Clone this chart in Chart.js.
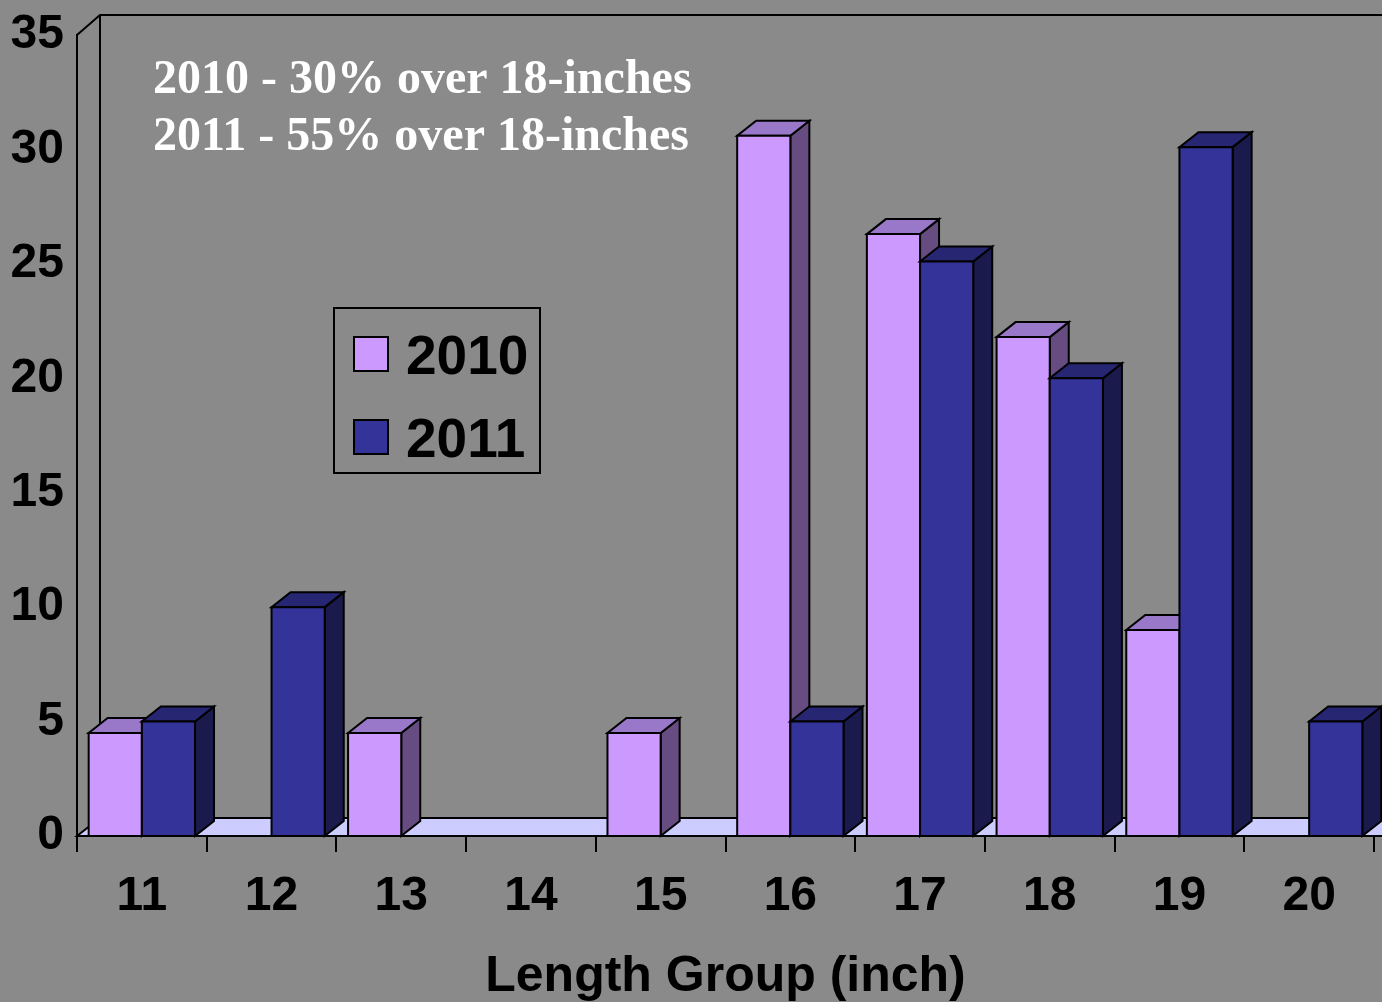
<!DOCTYPE html>
<html>
<head>
<meta charset="utf-8">
<script src="https://cdn.jsdelivr.net/npm/chart.js@4.4.1/dist/chart.umd.min.js"></script>
<style>
  html, body { margin: 0; padding: 0; background: #8a8a8a; }
  #wrap { width: 1382px; height: 1002px; }
</style>
</head>
<body>
<div id="wrap"><canvas id="lengthChart" width="1382" height="1002"></canvas></div>
<script>
// data
const categories = ['11', '12', '13', '14', '15', '16', '17', '18', '19', '20'];
const seriesNames = ['2010', '2011'];
const values2010 = [4.5, 0, 4.5, 0, 4.5, 30.6, 26.3, 21.8, 9, 0];
const values2011 = [5, 10, 0, 0, 0, 5, 25.1, 20, 30.1, 5];
const notes = ['2010 - 30% over 18-inches', '2011 - 55% over 18-inches'];
const axisTitle = 'Length Group (inch)';

// colours: front, top, side
const faces = [
    { front: '#CC99FF', top: '#9977C9', side: '#664C80' },
    { front: '#333399', top: '#262673', side: '#1A1A4D' }
];

const BAR_DX = 19, BAR_DY = 15;   // bar depth
const WALL_DX = 23, WALL_DY = 18; // floor / wall depth

function poly(ctx, pts, fill) {
    ctx.beginPath();
    ctx.moveTo(pts[0][0], pts[0][1]);
    for (let k = 1; k < pts.length; k++) ctx.lineTo(pts[k][0], pts[k][1]);
    ctx.closePath();
    if (fill) { ctx.fillStyle = fill; ctx.fill(); }
    ctx.stroke();
}

// floor, back wall, legend and notes
const backdrop = {
    id: 'backdrop',
    beforeDatasetsDraw(chart) {
        const ctx = chart.ctx;
        const a = chart.chartArea;
        ctx.save();
        ctx.strokeStyle = '#000';
        ctx.lineWidth = 2;
        ctx.lineJoin = 'miter';
        // back wall edges
        ctx.beginPath();
        ctx.moveTo(a.left, a.top);
        ctx.lineTo(a.left + WALL_DX, a.top - 20);
        ctx.lineTo(chart.width + 5, a.top - 20);
        ctx.moveTo(a.left + WALL_DX, a.top - 20);
        ctx.lineTo(a.left + WALL_DX, a.bottom - WALL_DY);
        ctx.stroke();
        // floor
        poly(ctx, [
            [a.left, a.bottom],
            [chart.width + 5, a.bottom],
            [chart.width + 5, a.bottom - WALL_DY],
            [a.left + WALL_DX, a.bottom - WALL_DY]
        ], '#CCCCFF');
        ctx.restore();
    },
    afterDatasetsDraw(chart) {
        const ctx = chart.ctx;
        ctx.save();
        ctx.strokeStyle = '#000';
        ctx.lineWidth = 2;
        ctx.lineJoin = 'miter';
        // draw 3D bars category by category so overlaps come out right
        for (let i = 0; i < categories.length; i++) {
            chart.data.datasets.forEach((ds, d) => {
                if (!ds.data[i]) return;
                const bar = chart.getDatasetMeta(d).data[i];
                const p = bar.getProps(['x', 'y', 'base', 'width'], true);
                const l = p.x - p.width / 2, r = p.x + p.width / 2;
                const f = faces[d];
                poly(ctx, [[r, p.y], [r + BAR_DX, p.y - BAR_DY], [r + BAR_DX, p.base - BAR_DY], [r, p.base]], f.side);
                poly(ctx, [[l, p.y], [r, p.y], [r + BAR_DX, p.y - BAR_DY], [l + BAR_DX, p.y - BAR_DY]], f.top);
                poly(ctx, [[l, p.y], [r, p.y], [r, p.base], [l, p.base]], f.front);
            });
        }

        // legend box
        ctx.strokeRect(334, 308, 206, 165);
        ctx.font = 'bold 55px "Liberation Sans", Arial, sans-serif';
        ctx.textBaseline = 'alphabetic';
        ctx.textAlign = 'left';
        seriesNames.forEach((name, d) => {
            const y = 337 + d * 83;
            ctx.fillStyle = faces[d].front;
            ctx.fillRect(354, y, 34, 34);
            ctx.strokeRect(354, y, 34, 34);
            ctx.fillStyle = '#000';
            ctx.fillText(name, 406, y + 37);
        });

        // notes
        ctx.fillStyle = '#fff';
        ctx.font = 'bold 48px "Liberation Serif", "Times New Roman", serif';
        notes.forEach((t, k) => ctx.fillText(t, 153, 93 + k * 57));
        ctx.restore();
    }
};

const ctx = document.getElementById('lengthChart').getContext('2d');
const lengthChart = new Chart(ctx, {
    type: 'bar',
    data: {
        labels: categories,
        datasets: [{
            label: seriesNames[0],
            data: values2010,
            backgroundColor: faces[0].front,
            borderColor: '#000',
            borderWidth: 2,
            borderSkipped: false
        }, {
            label: seriesNames[1],
            data: values2011,
            backgroundColor: faces[1].front,
            borderColor: '#000',
            borderWidth: 2,
            borderSkipped: false
        }]
    },
    options: {
        responsive: false,
        devicePixelRatio: 1,
        animation: false,
        layout: { padding: { top: 35, right: 8, left: 0, bottom: 0 } },
        datasets: { bar: { categoryPercentage: 0.82, barPercentage: 1 } },
        plugins: {
            legend: { display: false },
            tooltip: { enabled: false }
        },
        scales: {
            y: {
                min: 0,
                max: 35,
                ticks: {
                    stepSize: 5,
                    color: '#000',
                    padding: 5,
                    font: { family: '"Liberation Sans", Arial, sans-serif', size: 48, weight: 'bold' }
                },
                grid: { display: false },
                border: { display: true, color: '#000', width: 2 },
                afterFit: scale => { scale.width = 77 }
            },
            x: {
                offset: true,
                ticks: {
                    color: '#000',
                    padding: 16,
                    font: { family: '"Liberation Sans", Arial, sans-serif', size: 48, weight: 'bold' }
                },
                grid: {
                    display: true,
                    offset: true,
                    drawOnChartArea: false,
                    color: '#000',
                    lineWidth: 2,
                    tickLength: 16
                },
                border: { display: true, color: '#000', width: 2 },
                title: {
                    display: true,
                    text: axisTitle,
                    color: '#000',
                    padding: { top: 0, bottom: 0 },
                    font: { family: '"Liberation Sans", Arial, sans-serif', size: 50, weight: 'bold', lineHeight: 1.0 }
                },
                afterFit: scale => { scale.height = 166 }
            }
        }
    },
    plugins: [backdrop]
});
</script>
</body>
</html>
